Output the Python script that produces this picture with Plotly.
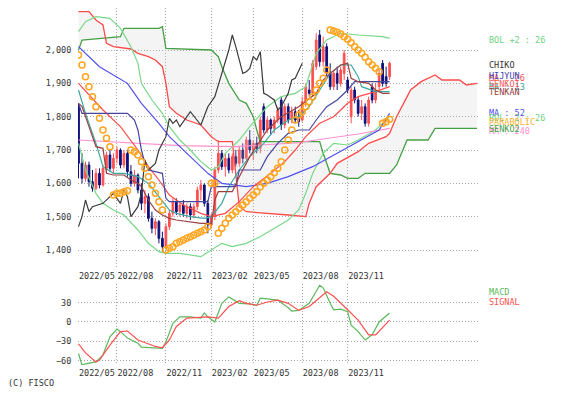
import pandas as pd
import plotly.graph_objects as go

# ---------------- data ----------------
dates = [d.strftime("%Y-%m-%d") for d in pd.date_range("2022-05-16", periods=115, freq="7D")]

opens = [1830,1660,1615,1655,1605,1585,1630,1595,1645,1685,
         1645,1675,1700,1655,1690,1635,1600,1625,1580,1540,
         1560,1495,1465,1485,1435,1410,1470,1510,1545,1515,
         1535,1510,1530,1505,1530,1580,1595,1540,1475,1500,
         1640,1690,1650,1675,1640,1680,1660,1700,1675,1730,
         1700,1720,1705,1830,1760,1790,1765,1790,1850,1775,
         1830,1790,1815,1800,1790,1845,1880,1870,1950,2045,
         1965,2010,1930,1890,1930,1900,1930,1910,1800,1880,
         1850,1810,1830,1780,1890,1850,1890,1960,1920,1920]
highs = [1840,1690,1665,1665,1640,1645,1645,1655,1695,1700,
         1690,1710,1705,1700,1700,1655,1640,1630,1600,1580,
         1570,1515,1495,1490,1455,1480,1520,1555,1555,1545,
         1550,1540,1540,1540,1590,1610,1600,1550,1510,1650,
         1730,1700,1690,1690,1690,1700,1710,1720,1740,1760,
         1730,1740,1800,1840,1800,1795,1800,1830,1860,1840,
         1840,1830,1830,1820,1860,1900,1910,1970,2050,2060,
         2040,2020,1960,1940,1950,1950,2000,1920,1890,1890,
         1860,1850,1840,1860,1900,1900,1940,1970,1950,1965]
lows = [1615,1600,1605,1590,1575,1580,1585,1590,1630,1635,
        1630,1660,1645,1645,1620,1590,1590,1570,1520,1510,
        1485,1450,1445,1420,1395,1405,1460,1500,1505,1500,
        1500,1495,1490,1495,1520,1550,1530,1450,1465,1490,
        1630,1640,1620,1630,1630,1650,1650,1660,1670,1690,
        1670,1690,1690,1750,1750,1745,1750,1780,1760,1765,
        1780,1780,1780,1770,1785,1830,1860,1860,1940,1950,
        1950,1920,1880,1880,1880,1890,1910,1870,1780,1840,
        1800,1790,1770,1770,1840,1840,1880,1890,1890,1910]
closes = [1660,1615,1655,1605,1585,1630,1595,1645,1685,1645,
          1675,1700,1655,1690,1635,1600,1625,1580,1540,1560,
          1495,1465,1485,1435,1410,1470,1510,1545,1515,1535,
          1510,1530,1505,1530,1580,1595,1540,1475,1500,1640,
          1690,1650,1675,1640,1680,1660,1700,1675,1730,1700,
          1720,1705,1790,1760,1790,1765,1790,1820,1775,1830,
          1790,1815,1790,1785,1845,1890,1870,1960,2030,1965,
          2010,1930,1890,1930,1900,1940,1990,1880,1880,1850,
          1810,1830,1780,1850,1850,1880,1930,1900,1900,1960]

# Bollinger +-2 (26)
bb_up_w = [0,2,5,9,12,15,17,18,21,24,26,29,32,35,38,40,42,46,49,54,58,62,65,68,71,75,80,87,89]
bb_up_v = [2055,2085,2100,2095,2065,2010,1960,1900,1850,1810,1770,1730,1700,1665,1640,1650,1690,1730,1770,1830,1860,1870,1890,1990,2030,2050,2045,2040,2035]
bb_lo_w = [0,2,5,7,10,13,17,20,23,25,29,35,38,41,44,48,52,57,60,63,65,67,70,73,77,80,85,89]
bb_lo_v = [1720,1640,1570,1540,1520,1505,1460,1420,1395,1390,1390,1380,1400,1420,1410,1420,1440,1470,1490,1520,1570,1630,1690,1720,1715,1730,1760,1800]

# moving averages
ma26_w = [0,7,12,17,20,23,26,30,35,38,42,46,50,55,59,62,65,69,73,77,80,85,89]
ma26_v = [1900,1820,1770,1700,1650,1610,1565,1535,1510,1500,1510,1545,1590,1630,1665,1700,1740,1780,1800,1840,1860,1875,1890]
ma13_w = [0,2,5,7,10,13,17,20,23,26,28,32,36,38,41,43,46,49,53,56,60,63,66,69,72,75,78,80,81,85,89]
ma13_v = [1880,1810,1720,1650,1630,1630,1620,1600,1560,1520,1510,1500,1495,1500,1540,1590,1640,1680,1720,1760,1790,1800,1830,1880,1930,1955,1955,1920,1890,1875,1875]
ma52_w = [0,6,14,18,23,26,29,37,41,48,54,60,67,74,79,86,89]
ma52_v = [2010,1950,1900,1840,1780,1740,1710,1630,1600,1590,1600,1620,1650,1690,1720,1760,1810]
ma240_w = [0,29,45,63,68,80,89]
ma240_v = [1730,1713,1710,1722,1730,1748,1765]

# Ichimoku
tenkan_w = [0,1,3,5,7,8,10,13,15,17,18,20,22,24,26,28,35,38,39,40,44,46,49,54,58,63,68,70,72,75,77,78,80,83,85,87,89]
tenkan_v = [1840,1830,1770,1710,1705,1630,1625,1625,1610,1600,1590,1550,1520,1505,1495,1490,1480,1480,1550,1575,1575,1620,1680,1760,1800,1830,1870,1910,1930,1955,1960,1915,1905,1900,1880,1870,1870]
kijun_w = [0,1,14,16,17,18,19,20,24,25,26,37,38,45,46,52,54,57,60,63,66,68,71,74,77,79,89]
kijun_v = [1840,1810,1810,1790,1760,1700,1660,1640,1630,1555,1545,1545,1590,1590,1640,1640,1680,1720,1750,1760,1760,1790,1830,1850,1880,1905,1905]
chiko_w = [0,1,2,3,4,7,10,12,13,14,15,17,18,19,20,22,23,25,26,27,28,29,32,35,37,39,41,43,44,45,47,48,49,50,51,52,53,54,56,57,58,60,61,62,64]
chiko_v = [1470,1500,1550,1515,1530,1540,1570,1540,1580,1560,1500,1530,1570,1670,1640,1660,1700,1740,1795,1780,1790,1770,1815,1775,1830,1860,1930,2000,2045,2010,1930,1935,1945,1980,1970,1995,1870,1865,1850,1820,1830,1870,1910,1915,1960]
senko1_w = [0,3,5,7,8,10,15,17,20,22,24,25,26,28,31,35,38,40,44,45,46,48,55,60,65,66,68,72,74,80,83,88,89,91,93,95,98,102,104,109,111,114]
senko1_v = [2115,2115,2090,2075,2020,2010,2003,1990,1980,1970,1950,1900,1830,1810,1790,1775,1740,1725,1725,1620,1530,1515,1510,1505,1500,1540,1590,1630,1660,1695,1720,1740,1750,1800,1840,1880,1905,1925,1910,1910,1895,1900]
senko2_w = [0,1,12,13,23,24,25,38,40,41,43,46,48,50,51,52,69,70,72,75,77,80,82,89,91,94,100,102,114]
senko2_v = [2000,2030,2040,2065,2065,2070,2005,2000,1980,1950,1900,1850,1840,1800,1760,1725,1725,1690,1630,1625,1615,1615,1630,1630,1655,1730,1730,1765,1765]

# Parabolic SAR (one value per candle)
sar = [1985,1955,1920,1890,1860,1830,1795,1760,1735,1710,
       1565,1570,1570,1575,1578,1700,1695,1685,1665,1645,
       1620,1595,1570,1545,1520,1400,1405,1410,1420,1425,
       1430,1435,1440,1445,1450,1455,1460,1470,1600,1600,
       1450,1465,1480,1495,1505,1515,1525,1535,1545,1555,
       1565,1575,1590,1600,1610,1620,1632,1645,1665,1700,
       1730,1760,1790,1805,1815,1830,1845,1860,1880,1900,
       1915,1940,2060,2057,2053,2048,2040,2032,2022,2010,
       2000,1990,1978,1965,1955,1945,1935,1780,1785,1792]

# MACD / signal
macd_w = [0,1,2,5,7,9,11,12,14,17,18,22,24,25,27,29,32,35,36,37,39,41,43,46,49,51,52,54,57,60,61,63,66,69,70,72,73,75,77,78,80,82,84,86,89]
macd_v = [-49,-67,-65,-62,-51,-23,-11,-15,-25,-33,-39,-41,-41,-31,-2,8,8,6,14,8,0,29,39,29,28,26,37,36,34,22,17,18,29,57,53,29,19,20,16,-5,-15,-28,-20,0,14]
sig_w = [0,2,5,6,9,12,14,17,22,24,26,28,31,35,37,40,43,46,48,51,54,57,60,63,66,71,73,77,80,83,85,89]
sig_v = [-34,-48,-62,-59,-36,-15,-14,-28,-38,-40,-28,-7,6,8,8,6,24,33,29,26,31,34,29,18,24,47,40,19,3,-20,-20,3]

tick_dates = ["2022-05-16","2022-08-01","2022-11-07","2023-02-06","2023-05-01","2023-08-07","2023-11-06"]
tick_labels = ["2022/05","2022/08","2022/11","2023/02","2023/05","2023/08","2023/11"]
price_ticks = [1400,1500,1600,1700,1800,1900,2000]
macd_ticks = [-60,-30,0,30]

labels_top = [  # text, color, y pixel (page coordinates)
    ("BOL +2 : 26", "#6fd07f", 40),
    ("CHIKO", "#333333", 65),
    ("MA : 26", "#ff4a4a", 78),
    ("HIJYUN", "#4646b4", 76),
    ("MA : 13", "#3aa8a0", 87),
    ("SENKO1", "#ff5a5a", 84),
    ("TENKAN", "#9a4040", 92),
    ("MA : 52", "#5050ff", 113),
    ("BOL -2 : 26", "#6fd07f", 118),
    ("PARABOLIC", "#ffb030", 122),
    ("MA : 240", "#ff90d0", 131),
    ("SENKO2", "#45a045", 129),
    ("MACD", "#5cb85c", 292),
    ("SIGNAL", "#ff5050", 302),
]

# ---------------- figure ----------------
def X(weeks):
    return [dates[w] for w in weeks]

FONT = "DejaVu Sans Mono"
fig = go.Figure()

# cloud
fig.add_trace(go.Scatter(x=X(senko2_w), y=senko2_v, mode="lines",
                         line=dict(color="#45a045", width=1.3), xaxis="x", yaxis="y"))
fig.add_trace(go.Scatter(x=X(senko1_w), y=senko1_v, mode="lines",
                         line=dict(color="#ff4a4a", width=1.3), fill="tonexty",
                         fillcolor="rgba(0,0,0,0)",
                         fillpattern=dict(shape="|", fgcolor="#c8c8c8", bgcolor="rgba(255,255,255,0)",
                                          size=2, solidity=0.4),
                         xaxis="x", yaxis="y"))

def line(w, v, color, width=1.2):
    fig.add_trace(go.Scatter(x=X(w), y=v, mode="lines", line=dict(color=color, width=width),
                             xaxis="x", yaxis="y"))

line(bb_up_w, bb_up_v, "#78d888")
line(bb_lo_w, bb_lo_v, "#78d888")
line(ma240_w, ma240_v, "#ff90d0")
line(ma52_w, ma52_v, "#5050f0")
line(ma26_w, ma26_v, "#ff4a4a")
line(ma13_w, ma13_v, "#3aa8a0")
line(kijun_w, kijun_v, "#4646a0")
line(tenkan_w, tenkan_v, "#9a4040")
line(chiko_w, chiko_v, "#3a3a3a")

n = len(closes)
fig.add_trace(go.Candlestick(
    x=dates[:n], open=opens, high=highs, low=lows, close=closes,
    increasing=dict(line=dict(color="#ff5050", width=1), fillcolor="#ff5050"),
    decreasing=dict(line=dict(color="#10107a", width=1), fillcolor="#10107a"),
    whiskerwidth=0, xaxis="x", yaxis="y"))

fig.add_trace(go.Scatter(x=dates[:n], y=sar, mode="markers",
                         marker=dict(symbol="circle-open", size=6, color="#ffa520",
                                     line=dict(width=1.5, color="#ffa520")),
                         xaxis="x", yaxis="y"))

# MACD panel
fig.add_trace(go.Scatter(x=X(macd_w), y=macd_v, mode="lines",
                         line=dict(color="#5cb85c", width=1.2), xaxis="x2", yaxis="y2"))
fig.add_trace(go.Scatter(x=X(sig_w), y=sig_v, mode="lines",
                         line=dict(color="#ff5050", width=1.2), xaxis="x2", yaxis="y2"))

# The page body has an 8px margin, so the figure is drawn 8px in from the
# top-left corner of the window; page coordinates are used below.
OFF = 8
W, H = 565 - OFF, 396 - OFF
PLOT_L, PLOT_R, PLOT_T, PLOT_B = 78, 478, 8, 365          # page pixels
L, R, T, B = PLOT_L - OFF, W - (PLOT_R - OFF), PLOT_T - OFF, H - (PLOT_B - OFF)
PW, PH = PLOT_R - PLOT_L, PLOT_B - PLOT_T

def py(pix):
    return (PLOT_B - pix) / PH

def px(pix):
    return (pix - PLOT_L) / PW

GRID = "#a6a6a6"
xr = ["2022-05-15", "2024-07-24"]
xcommon = dict(type="date", range=xr, tickvals=tick_dates, ticktext=tick_labels,
               showgrid=True, gridcolor=GRID, griddash="1px,2px", gridwidth=1,
               zeroline=False, showline=False, ticks="outside", ticklen=2,
               tickcolor="rgba(0,0,0,0)", ticklabelposition="outside right",
               tickangle=0, automargin=False,
               tickfont=dict(family=FONT, size=8.5, color="#333333"),
               rangeslider=dict(visible=False))
ycommon = dict(showgrid=True, gridcolor=GRID, griddash="1px,2px", gridwidth=1,
               zeroline=False, showline=False, ticks="outside", ticklen=4,
               tickcolor="rgba(0,0,0,0)", automargin=False,
               tickfont=dict(family=FONT, size=8.5, color="#333333"))

fig.update_layout(
    width=W, height=H, margin=dict(l=L, r=R, t=T, b=B, pad=0, autoexpand=False),
    paper_bgcolor="white", plot_bgcolor="white", showlegend=False,
    xaxis=dict(anchor="y", domain=[0, 1], **xcommon),
    xaxis2=dict(anchor="y2", domain=[0, 1], matches="x", **xcommon),
    yaxis=dict(domain=[py(268), 1], range=[1346, 2126], tickvals=price_ticks,
               tickformat=",", **ycommon),
    yaxis2=dict(domain=[0, py(284)], range=[-66.8, 59], tickvals=macd_ticks, **ycommon),
)

ann = []
for text, color, ypix in labels_top:
    ann.append(dict(text=text, x=px(487), y=py(ypix), xref="paper", yref="paper",
                    xanchor="left", yanchor="middle", showarrow=False,
                    font=dict(family=FONT, size=8.5, color=color)))
ann.append(dict(text="(C) FISCO", x=px(6), y=py(383), xref="paper", yref="paper",
                xanchor="left", yanchor="middle", showarrow=False,
                font=dict(family=FONT, size=8.5, color="#333333")))
fig.update_layout(annotations=ann)

fig.write_html("out.html")
